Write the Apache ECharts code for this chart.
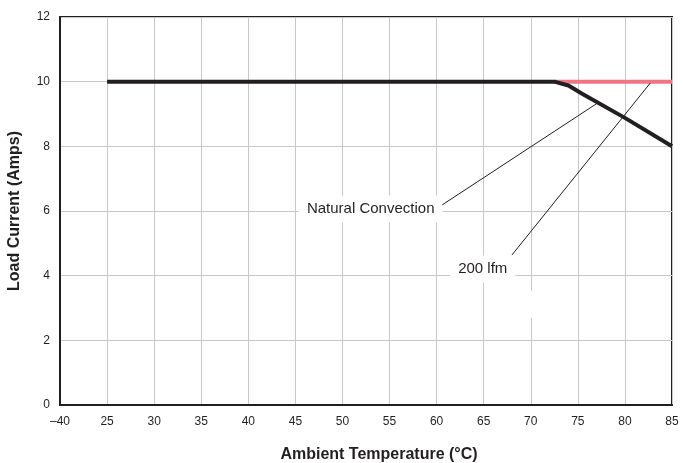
<!DOCTYPE html>
<html>
<head>
<meta charset="utf-8">
<script src="https://cdn.jsdelivr.net/npm/echarts@6/dist/echarts.min.js"></script>
<style>html,body{margin:0;padding:0;background:#fff}#c{width:683px;height:463px}</style>
</head>
<body>
<div id="c"></div>
<script>
// Data (temperature °C, current A). x=20 is the axis break shown as "–40".
var naturalConvection = [[25, 10], [72.5, 10], [74, 9.88], [75.5, 9.62], [80, 8.88], [85, 8.0]];
var lfm200 = [[72.5, 10], [85, 10]];
var xTickLabels = {20: '–40'};
var annotations = [
  {name: 'Natural Convection', value: [53.0, 6.06]},
  {name: '200 lfm', value: [64.9, 4.2]}
];
var leaderNatural = [[60.6, 6.19], [77.1, 9.34]];
var leader200 = [[68.0, 4.64], [82.7, 9.96]];
var gapBox = [[69.6, 2.69], [70.4, 3.53]];

var FONT = '"Liberation Sans", Arial, Helvetica, sans-serif';
var chart = echarts.init(document.getElementById('c'));
chart.setOption({
  animation: false,
  backgroundColor: '#fff',
  grid: {left: 60, right: 11, top: 17, bottom: 58, show: true, borderColor: '#231f20', borderWidth: 2,
         backgroundColor: 'transparent', containLabel: false, outerBoundsMode: 'none'},
  xAxis: {
    type: 'value', min: 20, max: 85, interval: 5,
    name: 'Ambient Temperature (°C)', nameLocation: 'middle', nameGap: 42,
    nameTextStyle: {fontFamily: FONT, fontWeight: 'bold', fontSize: 16, color: '#231f20', padding: [0, 0, 0, 26]},
    axisLine: {show: true, lineStyle: {color: '#231f20', width: 2}},
    axisTick: {show: false},
    axisLabel: {fontFamily: FONT, fontSize: 12, color: '#231f20', margin: 11,
      formatter: function (v) { return xTickLabels[v] !== undefined ? xTickLabels[v] : String(v); }},
    splitLine: {show: true, lineStyle: {color: '#c8c8c8', width: 1}}
  },
  yAxis: {
    type: 'value', min: 0, max: 12, interval: 2,
    name: 'Load Current (Amps)', nameLocation: 'middle', nameGap: 37,
    nameTextStyle: {fontFamily: FONT, fontWeight: 'bold', fontSize: 16, color: '#231f20'},
    axisLine: {show: true, lineStyle: {color: '#231f20', width: 2}},
    axisTick: {show: false},
    axisLabel: {fontFamily: FONT, fontSize: 12, color: '#231f20', margin: 10},
    splitLine: {show: true, lineStyle: {color: '#c8c8c8', width: 1}}
  },
  series: [
    {
      name: '200 lfm', type: 'line', data: lfm200, symbol: 'none', z: 2,
      lineStyle: {color: '#f07484', width: 4}
    },
    {
      name: 'Natural Convection', type: 'line', data: naturalConvection, symbol: 'none', z: 3,
      lineStyle: {color: '#231f20', width: 4, cap: 'butt', join: 'round'},
      markArea: {silent: true, itemStyle: {color: '#fff', opacity: 1}, data: [[{coord: gapBox[0]}, {coord: gapBox[1]}]]},
      markLine: {
        silent: true, symbol: 'none', label: {show: false},
        lineStyle: {color: '#231f20', width: 1, type: 'solid'},
        data: [
          [{coord: leaderNatural[0]}, {coord: leaderNatural[1]}],
          [{coord: leader200[0]}, {coord: leader200[1]}]
        ]
      }
    },
    {
      name: 'labels', type: 'scatter', data: annotations, symbolSize: 0, z: 4, silent: true,
      itemStyle: {opacity: 1},
      label: {
        show: true, position: 'inside', formatter: '{b}',
        fontFamily: FONT, fontSize: 15, color: '#231f20', textBorderWidth: 0,
        backgroundColor: '#fff', padding: [6, 8, 6, 8]
      }
    }
  ]
});
</script>
</body>
</html>
